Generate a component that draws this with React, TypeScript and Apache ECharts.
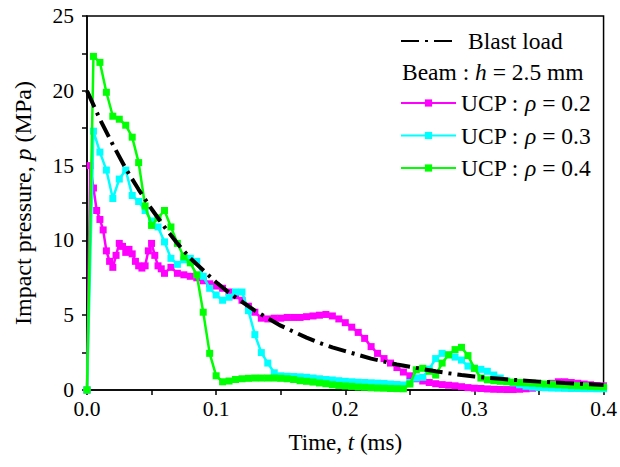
import React, { useEffect, useRef } from "react";
import * as echarts from "echarts";

const FONT = "'Liberation Serif', 'Times New Roman', serif";

// time grid (ms) for rho = 0.3 and rho = 0.4
const time = [
  0, 0.005, 0.01, 0.015, 0.02, 0.025, 0.03, 0.035, 0.04, 0.045,
  0.05, 0.055, 0.06, 0.065, 0.07, 0.075, 0.08, 0.085, 0.09, 0.095,
  0.1, 0.105, 0.11, 0.115, 0.12, 0.125, 0.13, 0.135, 0.14, 0.145,
  0.15, 0.155, 0.16, 0.165, 0.17, 0.175, 0.18, 0.185, 0.19, 0.195,
  0.2, 0.205, 0.21, 0.215, 0.22, 0.225, 0.23, 0.235, 0.24, 0.245,
  0.25, 0.255, 0.26, 0.265, 0.27, 0.275, 0.28, 0.285, 0.29, 0.295,
  0.3, 0.305, 0.31, 0.315, 0.32, 0.325, 0.33, 0.335, 0.34, 0.345,
  0.35, 0.355, 0.36, 0.365, 0.37, 0.375, 0.38, 0.385, 0.39, 0.395,
  0.4,
];

// time grid (ms) for rho = 0.2
const timeRho02 = [
  0, 0.0025, 0.005, 0.0075, 0.01, 0.0125, 0.015, 0.0175, 0.02, 0.0225,
  0.025, 0.0275, 0.03, 0.0325, 0.035, 0.0375, 0.04, 0.0425, 0.045, 0.0475,
  0.05, 0.0525, 0.055, 0.0575, 0.06,
  0.065, 0.07, 0.075, 0.08, 0.085, 0.09, 0.095, 0.1, 0.105, 0.11,
  0.115, 0.12, 0.125, 0.13, 0.135, 0.14, 0.145, 0.15, 0.155, 0.16,
  0.165, 0.17, 0.175, 0.18, 0.185, 0.19, 0.195, 0.2, 0.205, 0.21,
  0.215, 0.22, 0.225, 0.23, 0.235, 0.24, 0.245, 0.25, 0.255, 0.26,
  0.265, 0.27, 0.275, 0.28, 0.285, 0.29, 0.295, 0.3, 0.305, 0.31,
  0.315, 0.32, 0.325, 0.33, 0.335, 0.34, 0.345, 0.35, 0.355, 0.36,
  0.365, 0.37, 0.375, 0.38, 0.385, 0.39, 0.395, 0.4,
];

// time grid (ms) for the blast load
const blastTime = [
  0, 0.01, 0.02, 0.03, 0.04, 0.05, 0.06, 0.07, 0.08, 0.09,
  0.1, 0.11, 0.12, 0.13, 0.14, 0.15, 0.16, 0.17, 0.18, 0.19,
  0.2, 0.21, 0.22, 0.23, 0.24, 0.25, 0.26, 0.27, 0.28, 0.29,
  0.3, 0.31, 0.32, 0.33, 0.34, 0.35, 0.36, 0.37, 0.38, 0.39,
  0.4,
];

const blastLoad = [
  20, 18.1, 16.4, 14.8, 13.4, 12.1, 10.9, 9.8, 8.8, 8.0,
  7.2, 6.5, 5.9, 5.3, 4.8, 4.3, 3.9, 3.5, 3.15, 2.85,
  2.6, 2.35, 2.1, 1.9, 1.7, 1.55, 1.4, 1.25, 1.12, 1.0,
  0.9, 0.82, 0.75, 0.68, 0.62, 0.56, 0.51, 0.46, 0.42, 0.38,
  0.34,
];

const ucpRho02 = [
  0, 15.0, 13.5, 12.0, 11.4, 10.7, 9.3, 8.6, 8.2, 9.0,
  9.8, 9.6, 9.2, 9.4, 9.1, 8.6, 8.3, 8.15, 8.3, 9.3,
  9.8, 9.0, 8.3, 8.1, 7.8,
  8.2, 7.8, 7.7, 7.6, 7.5, 7.3, 7.1, 6.95, 6.8, 6.55,
  6.3, 6.0, 5.6, 5.2, 4.8, 4.75, 4.8, 4.8, 4.85, 4.85,
  4.85, 4.9, 4.95, 5.0, 5.05, 4.95, 4.75, 4.5, 4.2, 3.85,
  3.45, 2.9, 2.45, 2.1, 1.8, 1.5, 1.2, 0.95, 0.75, 0.6,
  0.5, 0.42, 0.36, 0.32, 0.28, 0.22, 0.16, 0.12, 0.1, 0.07,
  0.05, 0.04, 0.03, 0.03, 0.05, 0.08, 0.12, 0.2, 0.3, 0.45,
  0.55, 0.55, 0.5, 0.45, 0.4, 0.35, 0.3, 0.28,
];

const ucpRho03 = [
  0, 17.3, 15.9, 14.7, 12.8, 14.1, 14.7, 13.0, 12.6, 12.0,
  11.3, 10.9, 9.9, 8.8, 8.4, 8.7, 8.8, 8.6, 7.6, 6.8,
  6.35, 6.0, 6.2, 6.55, 6.55, 5.3, 3.7, 2.5, 1.8, 1.15,
  0.95, 0.92, 0.9, 0.88, 0.85, 0.8, 0.75, 0.7, 0.67, 0.62,
  0.58, 0.55, 0.52, 0.5, 0.48, 0.46, 0.44, 0.4, 0.37, 0.34,
  0.5, 0.8, 0.85, 1.4, 2.1, 2.45, 2.35, 2.2, 2.0, 1.6,
  1.45, 1.38, 1.25, 1.0, 0.8, 0.6, 0.48, 0.35, 0.25, 0.2,
  0.17, 0.15, 0.13, 0.12, 0.11, 0.1, 0.1, 0.09, 0.09, 0.08,
  0.08,
];

const ucpRho04 = [
  0, 22.3, 21.9, 19.9, 18.3, 18.1, 17.7, 16.9, 15.2, 12.3,
  11.0, 11.5, 12.0, 10.9, 9.8, 8.9, 8.5, 7.7, 5.2, 2.45,
  0.95, 0.55, 0.6, 0.7, 0.75, 0.78, 0.8, 0.8, 0.8, 0.8,
  0.78, 0.75, 0.7, 0.62, 0.58, 0.53, 0.47, 0.42, 0.35, 0.3,
  0.27, 0.24, 0.2, 0.18, 0.15, 0.13, 0.12, 0.1, 0.09, 0.08,
  0.4, 1.35, 1.45, 1.25, 1.0, 1.8, 2.35, 2.7, 2.85, 2.3,
  1.45, 0.8, 0.68, 0.62, 0.58, 0.55, 0.52, 0.5, 0.48, 0.46,
  0.43, 0.4, 0.38, 0.35, 0.33, 0.3, 0.28, 0.26, 0.24, 0.22,
  0.2,
];

const seriesNames = ["UCP : ρ = 0.2", "UCP : ρ = 0.3", "UCP : ρ = 0.4"];
const blastName = "Blast load";
const colors = ["#ff00ff", "#00ffff", "#00ff00"];

const pairs = (xs: number[], ys: number[]) => xs.map((x, i) => [x, ys[i]]);

const LEG = 23.5;
const italicOf = (size: number) => ({ fontStyle: "italic", fontSize: size, fontFamily: FONT, color: "#000" });

export default function App() {
  const ref = useRef<HTMLDivElement>(null);

  useEffect(() => {
    const chart = echarts.init(ref.current!, null, { renderer: "svg" });
    const ucpData = [ucpRho02, ucpRho03, ucpRho04];
    const ucpTimes = [timeRho02, time, time];

    const option: any = {
      animation: false,
      backgroundColor: "#fff",
      textStyle: { fontFamily: FONT },
      grid: {
        left: 87,
        right: 13,
        top: 16,
        bottom: 77,
        show: true,
        borderColor: "#000",
        borderWidth: 1.5,
      },
      xAxis: {
        type: "value",
        min: 0,
        max: 0.4,
        interval: 0.1,
        name: "Time, {i|t} (ms)",
        nameLocation: "middle",
        nameGap: 41,
        nameTextStyle: { fontSize: 23, fontFamily: FONT, color: "#000", rich: { i: italicOf(23) } },
        axisLine: { show: true, lineStyle: { color: "#000", width: 1.5 } },
        axisTick: { show: true, inside: false, length: 5, lineStyle: { color: "#000", width: 1.5 } },
        minorTick: { show: true, splitNumber: 2, length: 5, lineStyle: { color: "#000", width: 1.5 } },
        splitLine: { show: false },
        axisLabel: {
          fontSize: 21.5,
          fontFamily: FONT,
          color: "#000",
          margin: 8,
          formatter: (v: number) => v.toFixed(1),
        },
      },
      yAxis: {
        type: "value",
        min: 0,
        max: 25,
        interval: 5,
        name: "Impact pressure, {i|p} (MPa)",
        nameLocation: "middle",
        nameGap: 52,
        nameTextStyle: { fontSize: 24, fontFamily: FONT, color: "#000", rich: { i: italicOf(24) } },
        axisLine: { show: true, lineStyle: { color: "#000", width: 1.5 } },
        axisTick: { show: true, inside: false, length: 5, lineStyle: { color: "#000", width: 1.5 } },
        minorTick: { show: true, splitNumber: 2, length: 5, lineStyle: { color: "#000", width: 1.5 } },
        splitLine: { show: false },
        axisLabel: { fontSize: 21.5, fontFamily: FONT, color: "#000", margin: 13 },
      },
      legend: [
        {
          data: [blastName],
          orient: "vertical",
          left: 400,
          top: 29,
          padding: 0,
          itemWidth: 52,
          itemHeight: 8,
          itemStyle: { color: "rgba(0,0,0,0)", borderWidth: 0, opacity: 0 },
          formatter: () => "{b|Blast load}",
          textStyle: {
            fontSize: LEG,
            fontFamily: FONT,
            color: "#000",
            lineHeight: 24,
            rich: { b: { fontSize: LEG, fontFamily: FONT, color: "#000", padding: [0, 0, 0, 10] } },
          },
        },
        {
          data: seriesNames,
          orient: "vertical",
          left: 400,
          top: 91,
          padding: 0,
          itemGap: 8.5,
          itemWidth: 55,
          itemHeight: 9,
          formatter: (name: string) => name.replace("ρ", "{i|ρ}"),
          textStyle: {
            fontSize: LEG,
            fontFamily: FONT,
            color: "#000",
            lineHeight: 24,
            rich: { i: italicOf(LEG) },
          },
        },
      ],
      graphic: [
        {
          type: "text",
          x: 402,
          y: 72,
          style: {
            text: "Beam : {i|h} = 2.5 mm",
            fontSize: LEG,
            fontFamily: FONT,
            fill: "#000",
            verticalAlign: "middle",
            rich: { i: italicOf(LEG) },
          },
        },
      ],
      series: [
        ...seriesNames.map((name, k) => ({
          name,
          type: "line",
          data: pairs(ucpTimes[k], ucpData[k]),
          symbol: "rect",
          symbolSize: 7,
          showSymbol: true,
          color: colors[k],
          itemStyle: { color: colors[k] },
          lineStyle: { color: colors[k], width: 2.5 },
          z: 2 + k,
        })),
        {
          name: blastName,
          type: "line",
          data: pairs(blastTime, blastLoad),
          symbol: "none",
          showSymbol: false,
          color: "#000",
          lineStyle: { color: "#000", width: 4, type: [18, 6, 3, 6], cap: "butt" },
          z: 10,
        },
      ],
    };

    chart.setOption(option);
    return () => chart.dispose();
  }, []);

  return (
    <div
      ref={ref}
      style={{ position: "fixed", left: 0, top: 0, width: 620, height: 467 }}
    />
  );
}
